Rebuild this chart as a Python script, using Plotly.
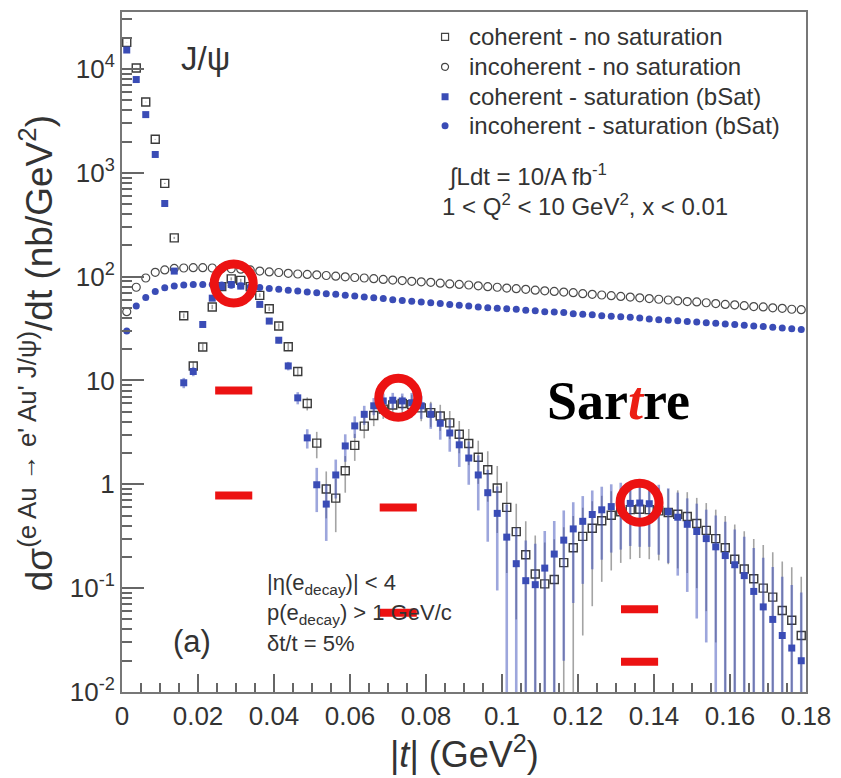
import numpy as np
import plotly.graph_objects as go

# |t| binning: 72 bins of 0.0025 GeV^2 between 0 and 0.18
T_EDGES = np.linspace(0.0, 0.18, 73)
t_centers = 0.5 * (T_EDGES[:-1] + T_EDGES[1:])

# coherent - no saturation (nb/GeV^2)
coh_nosat = [18000, 10200, 4800, 2100, 790, 236, 42, 13.8, 21, 51,
             80, 95, 92, 80, 66, 49, 33.4, 21.1, 12.2, 6.0,
             2.49, 0.9, 0.736, 1.35, 2.37, 3.63, 4.6, 5.3, 5.8, 6.0,
             5.85, 5.45, 4.9, 4.55, 3.9, 3.03, 2.47, 1.82, 1.38, 0.92,
             0.6, 0.35, 0.21, 0.137, 0.11, 0.121, 0.176, 0.245, 0.315, 0.377,
             0.445, 0.503, 0.545, 0.57, 0.575, 0.57, 0.555, 0.535, 0.515, 0.49,
             0.42, 0.36, 0.3, 0.245, 0.19, 0.153, 0.123, 0.1, 0.082, 0.061,
             0.049, 0.035]
coh_nosat_err = [47, 35, 24, 16, 9.8, 5.4, 2.3, 1.3, 1.6, 2.5,
                 3.13, 3.4, 3.36, 3.13, 2.84, 2.45, 2.0, 1.6, 1.22, 0.86,
                 0.71, 0.43, 0.39, 0.52, 0.69, 0.86, 0.97, 1.04, 1.08, 1.1,
                 1.45, 1.4, 1.33, 1.28, 1.18, 1.04, 0.94, 0.81, 0.7, 0.58,
                 0.46, 0.3, 0.23, 0.185, 0.165, 0.175, 0.21, 0.25, 0.28, 0.31,
                 0.33, 0.355, 0.37, 0.38, 0.38, 0.38, 0.37, 0.365, 0.36, 0.35,
                 0.32, 0.3, 0.27, 0.25, 0.22, 0.2, 0.175, 0.16, 0.14, 0.12,
                 0.11, 0.094]

# coherent - saturation (bSat)
coh_sat = [15200, 7900, 3630, 1500, 506, 113, 9.5, 12.2, 34.6, 62,
           80, 84, 81, 70, 54, 37.3, 24.4, 13.8, 6.8, 2.8,
           0.99, 0.645, 1.23, 2.34, 3.65, 4.72, 5.7, 6.35, 6.45, 6.35,
           6.1, 5.7, 4.72, 3.87, 3.12, 2.4, 1.79, 1.23, 0.83, 0.525,
           0.31, 0.172, 0.118, 0.108, 0.156, 0.213, 0.29, 0.372, 0.44, 0.512,
           0.568, 0.61, 0.635, 0.655, 0.66, 0.65, 0.6, 0.545, 0.482, 0.412,
           0.351, 0.3, 0.25, 0.206, 0.168, 0.132, 0.093, 0.066, 0.05, 0.035,
           0.0265, 0.02]
coh_sat_err = [43, 31, 21, 13.6, 7.9, 3.7, 1.08, 1.22, 2.06, 2.76,
               3.13, 3.21, 3.15, 2.93, 2.57, 2.14, 1.73, 1.3, 0.91, 0.59,
               0.45, 0.36, 0.5, 0.69, 0.86, 0.98, 1.07, 1.13, 1.14, 1.13,
               1.48, 1.43, 1.3, 1.18, 1.06, 0.93, 0.8, 0.67, 0.55, 0.43,
               0.33, 0.21, 0.17, 0.16, 0.2, 0.23, 0.27, 0.3, 0.33, 0.36,
               0.38, 0.39, 0.4, 0.4, 0.41, 0.4, 0.39, 0.37, 0.35, 0.32,
               0.3, 0.27, 0.25, 0.23, 0.2, 0.18, 0.15, 0.13, 0.11, 0.094,
               0.081, 0.071]

# incoherent - no saturation
incoh_nosat = [46, 79, 97, 110, 116, 120, 121, 122, 122, 121,
               120, 119, 118, 116, 113, 111, 109.5, 107.5, 106, 105,
               104, 102.5, 101, 99.5, 98, 97, 95.5, 94, 92.5, 91.5,
               90, 89, 88, 86.5, 85, 84, 83, 81.5, 80, 79,
               77.5, 76.5, 75.5, 74, 73, 72, 71, 70, 68.5, 67.5,
               66.5, 65.5, 64.5, 63.5, 62.5, 61.5, 60.5, 59.5, 58.5, 57.5,
               57, 56, 55, 54, 53.5, 52.5, 51.5, 51, 50, 49.5,
               48.5, 48]

# incoherent - saturation (bSat)
incoh_sat = [30, 52, 63, 72, 78, 81, 83, 84, 84, 84,
             83, 82.5, 81.5, 80, 78.5, 77, 75.5, 74, 72.5, 71,
             70, 68.5, 67.5, 66, 65, 63.5, 62.5, 61.5, 60, 59,
             58, 57, 56, 55, 54, 53, 52, 51, 50, 49.5,
             49, 48.5, 47.5, 47, 46, 45.5, 45, 44, 43.5, 43,
             42, 41.5, 41, 40.5, 40, 39, 38.5, 38, 37.5, 37,
             36.5, 36, 35.5, 35, 34.5, 34, 33.5, 33, 32.5, 32,
             31.5, 31]

# red highlight rings and dashes
ring_t = [0.0294, 0.0727, 0.1362]
ring_y = [85.7, 6.8, 0.664]
dash_t = [0.0294, 0.0294, 0.0727, 0.0727, 0.1362, 0.1362]
dash_y = [8.0, 0.78, 0.598, 0.058, 0.0628, 0.0196]

legend_names = ["coherent - no saturation", "incoherent - no saturation",
                "coherent - saturation (bSat)", "incoherent - saturation (bSat)"]

y_tickvals = [0.01, 0.1, 1, 10, 100, 1000, 10000]
y_ticktext = ["10<sup>-2</sup>", "10<sup>-1</sup>", "1", "10",
              "10<sup>2</sup>", "10<sup>3</sup>", "10<sup>4</sup>"]

BLUE = "rgb(58,76,182)"
RED = "rgb(236,18,18)"
TXT = "#333333"
FONT = "Liberation Sans"

fig = go.Figure()

fig.add_trace(go.Scatter(
    x=t_centers, y=coh_nosat, mode="markers", name=legend_names[0],
    marker=dict(symbol="square-open", size=8, color="#3a3a3a", line=dict(width=1.4)),
    error_y=dict(type="data", array=coh_nosat_err, color="rgba(90,90,90,0.55)",
                 thickness=1.6, width=0),
))
fig.add_trace(go.Scatter(
    x=t_centers, y=incoh_nosat, mode="markers", name=legend_names[1],
    marker=dict(symbol="circle-open", size=8, color="#4a4a4a", line=dict(width=1.2)),
))
fig.add_trace(go.Scatter(
    x=t_centers, y=coh_sat, mode="markers", name=legend_names[2],
    marker=dict(symbol="square", size=7, color=BLUE),
    error_y=dict(type="data", array=coh_sat_err, color="rgba(60,78,185,0.5)",
                 thickness=2.6, width=0),
))
fig.add_trace(go.Scatter(
    x=t_centers, y=incoh_sat, mode="markers", name=legend_names[3],
    marker=dict(symbol="circle", size=7, color=BLUE),
))

fig.add_trace(go.Scatter(
    x=ring_t, y=ring_y, mode="markers", hoverinfo="skip",
    marker=dict(symbol="circle-open", size=39, color=RED,
                line=dict(width=9, color=RED)),
))
fig.add_trace(go.Scatter(
    x=dash_t, y=dash_y, mode="markers", hoverinfo="skip",
    marker=dict(symbol="line-ew", size=26.5, color=RED,
                line=dict(width=8, color=RED)),
))

L, R, T, B = 122, 33, 10, 86
W, H = 841, 778
PW, PH = W - L - R, H - T - B


def px(xp):
    return (xp - L) / PW


def py(yp):
    return (H - B - yp) / PH


annotations = [
    dict(text="J/ψ", x=px(206), y=py(57), xanchor="center", yanchor="middle",
         font=dict(size=33, color=TXT)),
    dict(text="∫Ldt = 10/A fb<sup>-1</sup>", x=px(447), y=py(174),
         xanchor="left", yanchor="middle", font=dict(size=24, color=TXT)),
    dict(text="1 < Q<sup>2</sup> < 10 GeV<sup>2</sup>, x < 0.01", x=px(441), y=py(204),
         xanchor="left", yanchor="middle", font=dict(size=24, color=TXT)),
    dict(text="|η(e<sub>decay</sub>)| < 4", x=px(265), y=py(584),
         xanchor="left", yanchor="middle", font=dict(size=22, color=TXT)),
    dict(text="p(e<sub>decay</sub>) > 1 GeV/c", x=px(265), y=py(614),
         xanchor="left", yanchor="middle", font=dict(size=22, color=TXT)),
    dict(text="δt/t = 5%", x=px(265), y=py(643),
         xanchor="left", yanchor="middle", font=dict(size=22, color=TXT)),
    dict(text="(a)", x=px(192), y=py(641), xanchor="center", yanchor="middle",
         font=dict(size=31, color=TXT)),
    dict(text="<b>Sar<i><span style='color:rgb(236,30,20)'>t</span></i>re</b>",
         x=px(620), y=py(400), xanchor="center", yanchor="middle",
         font=dict(size=54, color="black", family="Liberation Serif")),
    dict(text="dσ<sup>(e Au → e' Au' J/ψ)</sup>/dt (nb/GeV<sup>2</sup>)",
         x=px(37), y=py(352), xanchor="center", yanchor="middle", textangle=-90,
         font=dict(size=37, color=TXT)),
    dict(text="|<i>t</i>| (GeV<sup>2</sup>)", x=px(466), y=py(752),
         xanchor="center", yanchor="middle", font=dict(size=36, color=TXT)),
]

# hand-placed legend: marker glyphs as pixel-sized shapes, labels as text
legend_rows = [35, 65, 95, 124]
legend_x_marker, legend_x_text = 446, 468
shapes = []
for i, (name, yrow) in enumerate(zip(legend_names, legend_rows)):
    annotations.append(dict(text=name, x=px(legend_x_text), y=py(yrow),
                            xanchor="left", yanchor="middle",
                            font=dict(size=24, color=TXT)))
    kind = "rect" if i % 2 == 0 else "circle"
    filled = i >= 2
    shapes.append(dict(
        type=kind, xref="paper", yref="paper", xsizemode="pixel", ysizemode="pixel",
        xanchor=px(legend_x_marker), yanchor=py(yrow), x0=-3.5, x1=3.5, y0=-3.5, y1=3.5,
        line=dict(color=BLUE if filled else "#444", width=0 if filled else 1.2),
        fillcolor=BLUE if filled else "rgba(0,0,0,0)",
    ))

for a in annotations:
    a.update(xref="paper", yref="paper", showarrow=False)

minor_y = [m * 10.0 ** e for e in range(-2, 5) for m in range(2, 10) if m * 10.0 ** e < 35000]

fig.update_layout(
    width=W, height=H,
    margin=dict(l=L, r=R, t=T, b=B),
    paper_bgcolor="white", plot_bgcolor="white",
    font=dict(family=FONT, color=TXT),
    showlegend=False,
    annotations=annotations,
    shapes=shapes,
    xaxis=dict(range=[0, 0.18], tick0=0, dtick=0.02, ticks="inside", ticklen=18,
               tickwidth=1.5, tickcolor="#666", showline=True, linecolor="#777",
               linewidth=2, mirror=True, showgrid=False, zeroline=False,
               tickfont=dict(size=26, color=TXT),
               minor=dict(dtick=0.005, ticks="inside", ticklen=9, tickcolor="#666",
                          tickwidth=1.5, showgrid=False)),
    yaxis=dict(type="log", range=[-2, 4.548], tickvals=y_tickvals, ticktext=y_ticktext,
               ticks="inside", ticklen=22, tickwidth=1.5, tickcolor="#666",
               showline=True, linecolor="#777", linewidth=2, mirror=True,
               showgrid=False, zeroline=False, tickfont=dict(size=26, color=TXT),
               minor=dict(tickvals=minor_y, ticks="inside", ticklen=10,
                          tickcolor="#666", tickwidth=1.5, showgrid=False)),
)

fig.write_html("out.html")
